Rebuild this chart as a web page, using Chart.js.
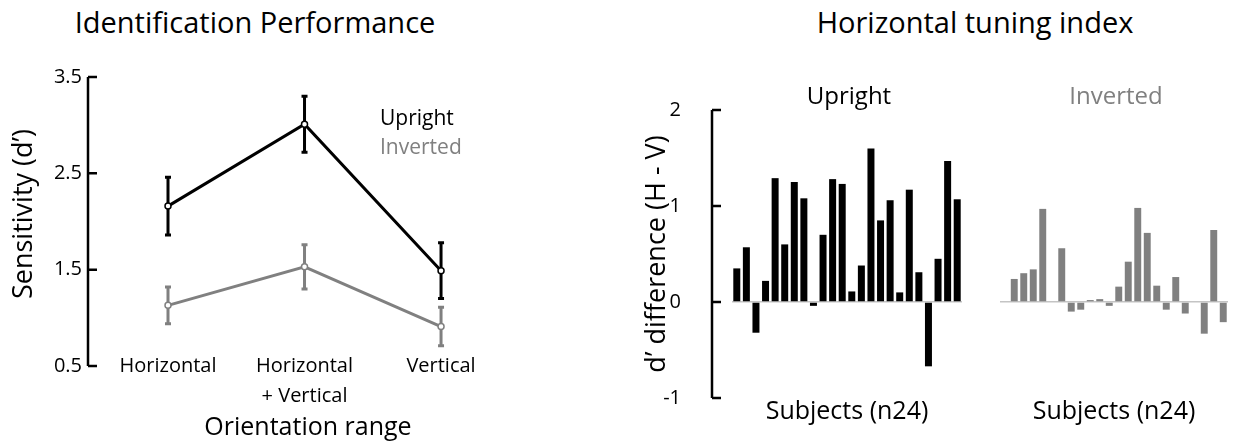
<!DOCTYPE html>
<html lang="en">
<head>
<meta charset="UTF-8">
<title>Identification Performance / Horizontal tuning index</title>
<script src="https://cdn.jsdelivr.net/npm/chart.js"></script>
<style>
  body { margin: 0; background: #fff; width: 1233px; height: 448px; overflow: hidden; position: relative; font-family: 'Open Sans', sans-serif; }
  .box { position: absolute; top: 0; height: 448px; }
  .heading { position: absolute; top: 7px; width: 400px; text-align: center; font-size: 29px; line-height: 29px; color: #000; }
</style>
</head>
<body>

<div class="heading" style="left:55px">Identification Performance</div>
<div class="heading" style="left:775px">Horizontal tuning index</div>

<div class="box" style="left:0;width:540px"><canvas id="perfChart"></canvas></div>
<div class="box" style="left:620px;width:458px"><canvas id="uprightChart"></canvas></div>
<div class="box" style="left:995px;width:238px"><canvas id="invertedChart"></canvas></div>

<script>
// --- data ---
const ranges = ['Horizontal', ['Horizontal', '+ Vertical'], 'Vertical'];
const sensTicks = [0.5, 1.5, 2.5, 3.5];
const uprightMean = [2.16, 3.01, 1.49];
const uprightErr = [0.30, 0.29, 0.29];
const invertedMean = [1.13, 1.53, 0.91];
const invertedErr = [0.19, 0.23, 0.20];

const subjects = Array.from({length: 24}, (_, i) => String(i + 1));
const diffTicks = [-1, 0, 1, 2];
const uprightDiff = [0.35, 0.57, -0.32, 0.22, 1.29, 0.60, 1.25, 1.08, -0.04, 0.70, 1.28, 1.23,
                     0.11, 0.38, 1.60, 0.85, 1.06, 0.10, 1.17, 0.31, -0.67, 0.45, 1.47, 1.07];
const invertedDiff = [0, 0.24, 0.30, 0.34, 0.97, 0, 0.56, -0.10, -0.08, 0.02, 0.03, -0.04,
                      0.16, 0.42, 0.98, 0.72, 0.17, -0.08, 0.26, -0.12, 0, -0.33, 0.75, -0.21];

const BLACK = '#000000';
const GREY = '#808080';

Chart.defaults.font.family = "'Open Sans', sans-serif";
Chart.defaults.color = BLACK;
Chart.defaults.animation = false;
Chart.defaults.plugins.legend.display = false;
Chart.defaults.plugins.tooltip.enabled = false;

// axis line with inward ticks, drawn from the y scale's ticks
const axisLine = {
    id: 'axisLine',
    afterDraw(chart, args, opts) {
        if (!opts.show) return;
        const {ctx, chartArea} = chart;
        const y = chart.scales.y;
        const vals = y.ticks.map(t => t.value);
        const x0 = chartArea.left - opts.gap;
        ctx.save();
        ctx.strokeStyle = BLACK;
        ctx.lineWidth = 2.5;
        ctx.beginPath();
        ctx.moveTo(x0, y.getPixelForValue(Math.max(...vals)));
        ctx.lineTo(x0, y.getPixelForValue(Math.min(...vals)));
        vals.forEach(v => {
            const py = y.getPixelForValue(v);
            ctx.moveTo(x0, py);
            ctx.lineTo(x0 + 9, py);
        });
        ctx.stroke();
        ctx.restore();
    }
};

// vertical error bars under the lines
const errorBars = {
    id: 'errorBars',
    beforeDatasetsDraw(chart) {
        const {ctx, scales: {x, y}} = chart;
        chart.data.datasets.forEach(ds => {
            if (!ds.errors) return;
            ctx.save();
            ctx.strokeStyle = ds.borderColor;
            ctx.lineWidth = 3;
            ds.data.forEach((p, j) => {
                const px = x.getPixelForValue(p.x);
                const top = y.getPixelForValue(p.y + ds.errors[j]);
                const bot = y.getPixelForValue(p.y - ds.errors[j]);
                ctx.beginPath();
                ctx.moveTo(px, top); ctx.lineTo(px, bot);
                ctx.moveTo(px - 3, top); ctx.lineTo(px + 3, top);
                ctx.moveTo(px - 3, bot); ctx.lineTo(px + 3, bot);
                ctx.stroke();
            });
            ctx.restore();
        });
    }
};

// coloured dataset names inside the plot
const textLegend = {
    id: 'textLegend',
    afterDraw(chart, args, opts) {
        if (!opts.show) return;
        const {ctx} = chart;
        ctx.save();
        ctx.font = "21px 'Open Sans', sans-serif";
        ctx.textBaseline = 'middle';
        ctx.textAlign = 'left';
        chart.data.datasets.forEach((ds, i) => {
            ctx.fillStyle = ds.borderColor;
            ctx.fillText(ds.label, opts.x, opts.y + i * opts.step);
        });
        ctx.restore();
    }
};

// panel name centred over the plot area
const panelLabel = {
    id: 'panelLabel',
    afterDraw(chart, args, opts) {
        if (!opts.show) return;
        const {ctx, chartArea} = chart;
        const ds = chart.data.datasets[0];
        ctx.save();
        ctx.font = "24px 'Open Sans', sans-serif";
        ctx.textBaseline = 'middle';
        ctx.textAlign = 'center';
        ctx.fillStyle = ds.backgroundColor;
        ctx.fillText(ds.label, (chartArea.left + chartArea.right) / 2 + 2, chartArea.top - 13);
        ctx.restore();
    }
};

Chart.register(axisLine, errorBars, textLegend, panelLabel);

function toPoints(vals) {
    return vals.map((v, i) => ({x: i, y: v}));
}

// --- left: identification performance ---
new Chart(document.getElementById('perfChart'), {
    type: 'line',
    data: {
        datasets: [
            {
                label: 'Upright',
                data: toPoints(uprightMean),
                errors: uprightErr,
                borderColor: BLACK,
                borderWidth: 3,
                pointRadius: 3,
                pointBorderWidth: 1.5,
                pointBackgroundColor: '#fff',
                pointBorderColor: BLACK
            },
            {
                label: 'Inverted',
                data: toPoints(invertedMean),
                errors: invertedErr,
                borderColor: GREY,
                borderWidth: 3,
                pointRadius: 3,
                pointBorderWidth: 1.5,
                pointBackgroundColor: '#fff',
                pointBorderColor: GREY
            }
        ]
    },
    options: {
        responsive: true,
        maintainAspectRatio: false,
        layout: { padding: {top: 77, right: 12, bottom: 0, left: 0} },
        plugins: {
            axisLine: { show: true, gap: 0 },
            textLegend: { show: true, x: 380, y: 119, step: 29 }
        },
        scales: {
            x: {
                type: 'linear',
                min: -0.586,
                max: 2.637,
                afterBuildTicks: s => { s.ticks = ranges.map((r, i) => ({value: i})); },
                afterFit: s => { s.height = 97; },
                grid: { display: false, drawTicks: false },
                border: { display: false },
                ticks: {
                    autoSkip: false,
                    maxRotation: 0,
                    padding: 0.5,
                    font: { size: 20, lineHeight: 1.5 },
                    callback: (v, i) => ranges[i]
                },
                title: {
                    display: true,
                    text: 'Orientation range',
                    font: { size: 25, lineHeight: 1 },
                    padding: { top: 0, bottom: 7.5 }
                }
            },
            y: {
                // bottom of the plot sits a little above 0.5 so the category labels line up with it
                min: 0.656,
                max: 3.5,
                afterBuildTicks: s => { s.ticks = sensTicks.map(v => ({value: v})); },
                afterFit: s => { s.width = 88; },
                grid: { display: false, drawTicks: false },
                border: { display: false },
                ticks: {
                    padding: 6,
                    font: { size: 20 },
                    callback: v => Number(v).toFixed(1)
                },
                title: {
                    display: true,
                    text: 'Sensitivity (d’)',
                    font: { size: 27, lineHeight: 1.2 },
                    padding: { top: 8, bottom: 0 }
                }
            }
        }
    }
});

// --- right: per-subject H - V difference ---
function diffChart(id, name, values, colour, withAxis) {
    return new Chart(document.getElementById(id), {
        type: 'bar',
        data: {
            labels: subjects,
            datasets: [{
                label: name,
                data: values,
                backgroundColor: colour,
                borderWidth: 0,
                barPercentage: 0.73,
                categoryPercentage: 1.0
            }]
        },
        options: {
            responsive: true,
            maintainAspectRatio: false,
            layout: { padding: withAxis ? {top: 110, right: 116, bottom: 0, left: 0}
                                        : {top: 110, right: 5, bottom: 0, left: 0} },
            plugins: {
                axisLine: { show: withAxis, gap: 20 },
                panelLabel: { show: true }
            },
            scales: {
                x: {
                    afterFit: s => { s.height = 50; },
                    grid: { display: false, drawTicks: false },
                    border: { display: false },
                    ticks: { display: false },
                    title: {
                        display: true,
                        text: 'Subjects (n24)',
                        font: { size: 25, lineHeight: 1 },
                        padding: { top: 0, bottom: 23.5 }
                    }
                },
                y: {
                    min: -1,
                    max: 2,
                    afterBuildTicks: s => { s.ticks = diffTicks.map(v => ({value: v})); },
                    afterFit: s => { s.width = withAxis ? 112 : 5; },
                    grid: {
                        drawTicks: withAxis,
                        tickLength: 48,
                        tickColor: 'rgba(0,0,0,0)',
                        lineWidth: 1.5,
                        color: c => c.tick && c.tick.value === 0 ? '#c4c4c4' : 'rgba(0,0,0,0)'
                    },
                    border: { display: false },
                    ticks: {
                        display: withAxis,
                        padding: 3,
                        font: { size: 20 }
                    },
                    title: {
                        display: withAxis,
                        text: 'd’ difference (H - V)',
                        font: { size: 27, lineHeight: 1.2 },
                        padding: { top: 21, bottom: 0 }
                    }
                }
            }
        }
    });
}

diffChart('uprightChart', 'Upright', uprightDiff, BLACK, true);
diffChart('invertedChart', 'Inverted', invertedDiff, GREY, false);
</script>

</body>
</html>
